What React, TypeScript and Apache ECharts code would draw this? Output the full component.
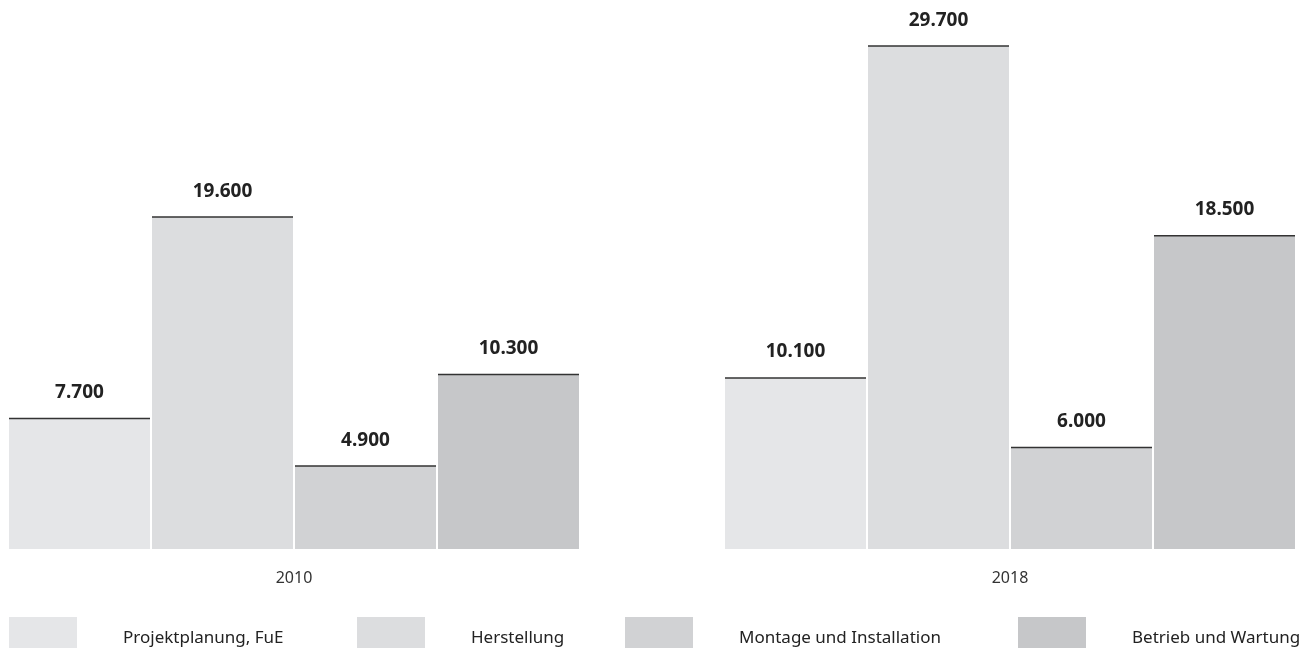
import React, { useEffect, useRef } from "react";
import * as echarts from "echarts";

const years = ["2010", "2018"];
const seriesNames = ["Projektplanung, FuE", "Herstellung", "Montage und Installation", "Betrieb und Wartung"];
const values2010 = [7700, 19600, 4900, 10300];
const values2018 = [10100, 29700, 6000, 18500];
const colors = ["#e5e6e8", "#dcdddf", "#d1d2d4", "#c6c7c9"];

const FONT = "'Noto Sans', 'Open Sans', sans-serif";

export default function App() {
  const ref = useRef<HTMLDivElement>(null);
  useEffect(() => {
    if (!ref.current) return;
    const chart = echarts.init(ref.current, undefined, { renderer: "svg" });
    const groups = [values2010, values2018];
    const barW = 141;
    const gap = 2;
    const total = barW * 4 + gap * 3;
    const fmt = (v: number) => v.toLocaleString("de-DE");
    const series: any[] = [];
    groups.forEach((vals, g) => {
      seriesNames.forEach((name, j) => {
        series.push({
          type: "bar",
          name,
          xAxisIndex: g,
          yAxisIndex: g,
          data: [vals[j]],
          barWidth: barW,
          barGap: ((gap / barW) * 100).toFixed(3) + "%",
          itemStyle: { color: colors[j] },
          label: {
            show: true,
            position: "top",
            distance: 18,
            formatter: (p: any) => fmt(p.value),
            fontFamily: FONT,
            fontWeight: "bold",
            fontSize: 19,
            color: "#222",
          },
        });
      });
      series.push({
        type: "custom",
        xAxisIndex: g,
        yAxisIndex: g,
        z: 5,
        silent: true,
        data: vals.map((v, j) => [0, v, j]),
        encode: { x: 0, y: 1 },
        renderItem: (params: any, api: any) => {
          const pt = api.coord([api.value(0), api.value(1)]);
          const j = api.value(2);
          const x0 = pt[0] - total / 2 + j * (barW + gap);
          return {
            type: "line",
            shape: { x1: x0, y1: pt[1], x2: x0 + barW, y2: pt[1] },
            style: { stroke: "#333", lineWidth: 1.5 },
          };
        },
      });
    });
    const legendLefts = [9, 357, 625, 1018];
    chart.setOption({
      animation: false,
      grid: [
        { left: 9, width: total, top: 41, bottom: 99 },
        { left: 725, width: total, top: 41, bottom: 99 },
      ],
      xAxis: years.map((y, g) => ({
        type: "category",
        gridIndex: g,
        data: [y],
        axisLine: { show: false },
        axisTick: { show: false },
        axisLabel: { fontSize: 16, color: "#333", margin: 20, fontFamily: FONT },
      })),
      yAxis: years.map((_, g) => ({
        type: "value",
        gridIndex: g,
        min: 0,
        max: 30000,
        show: false,
        splitLine: { show: false },
      })),
      legend: seriesNames.map((n, i) => ({
        data: [n],
        left: legendLefts[i],
        top: 617,
        padding: 0,
        icon: "rect",
        itemWidth: 68,
        itemHeight: 38,
        selectedMode: false,
        textStyle: { fontSize: 17, color: "#222", fontFamily: FONT, padding: [0, 0, 0, 41] },
      })),
      series,
    });
    return () => chart.dispose();
  }, []);
  return (
    <div
      ref={ref}
      style={{ position: "fixed", left: 0, top: 0, width: 1308, height: 648 }}
    />
  );
}
